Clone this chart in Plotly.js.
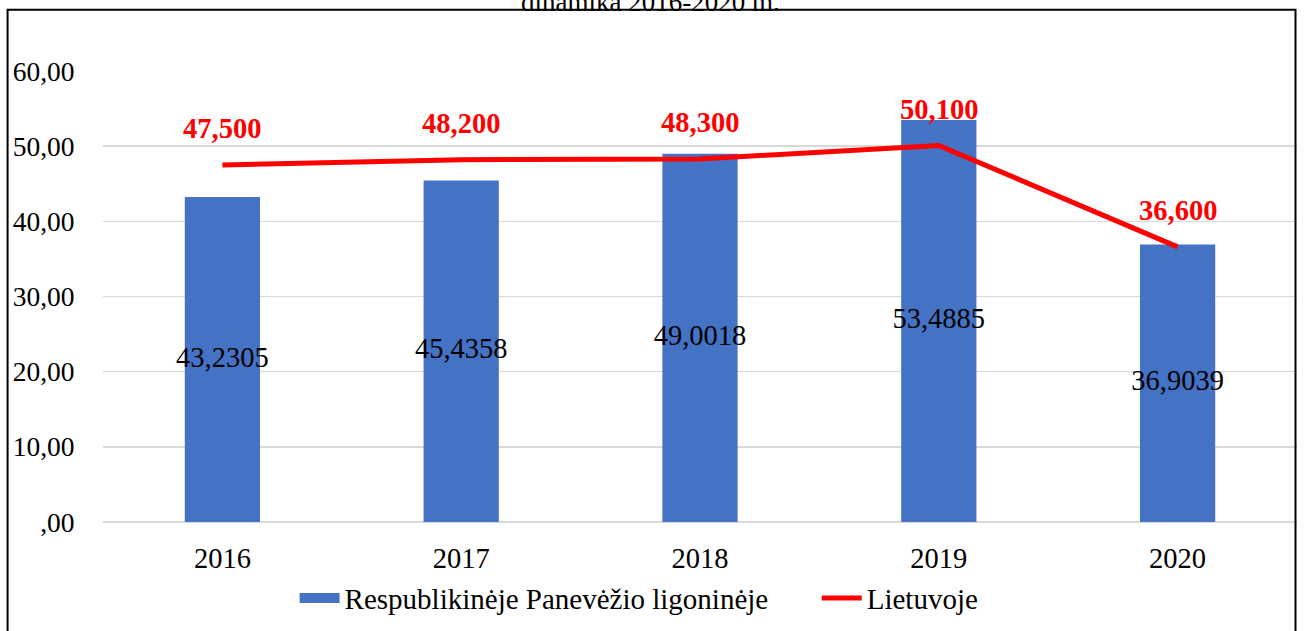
<!DOCTYPE html>
<html>
<head>
<meta charset="utf-8">
<script src="https://cdn.plot.ly/plotly-3.0.1.min.js"></script>
<style>
html,body{margin:0;padding:0;background:#fff;}
#chart{width:1306px;height:631px;}
</style>
</head>
<body>
<div id="chart"></div>
<script>
const years = ['2016', '2017', '2018', '2019', '2020'];
const hospitalValues = [43.2305, 45.4358, 49.0018, 53.4885, 36.9039];
const lithuaniaValues = [47.5, 48.2, 48.3, 50.1, 36.6];
const hospitalName = 'Respublikinėje Panevėžio ligoninėje';
const lithuaniaName = 'Lietuvoje';
const tickVals = [0, 10, 20, 30, 40, 50, 60];
const tickText = [',00', '10,00', '20,00', '30,00', '40,00', '50,00', '60,00'];
const titleText = 'dinamika 2016-2020 m.';

const fmt = (v, d) => v.toFixed(d).replace('.', ',');
const serif = '"Liberation Serif", "Times New Roman", serif';
const FS = 28.5;
const legendGap = '\u00a0'.repeat(6);

const bars = {
  type: 'bar', x: years, y: hospitalValues, name: hospitalName, showlegend: false,
  marker: {color: '#4472C4'}, width: 0.315, hoverinfo: 'skip'
};
// legend entry for the bars drawn as a wide blue swatch
const barsLegend = {
  type: 'scatter', mode: 'lines', x: [null], y: [null], name: hospitalName + legendGap,
  line: {color: '#4472C4', width: 20}, hoverinfo: 'skip'
};
const barLabels = {
  type: 'scatter', mode: 'text', x: years, y: hospitalValues.map(v => v / 2),
  text: hospitalValues.map(v => fmt(v, 4)), textposition: 'middle center',
  textfont: {family: serif, size: FS, color: '#000'}, showlegend: false, hoverinfo: 'skip'
};
const line = {
  type: 'scatter', mode: 'lines', x: years, y: lithuaniaValues, name: lithuaniaName,
  line: {color: '#FF0000', width: 5}, hoverinfo: 'skip'
};

const annotations = years.map((yr, i) => ({
  x: i, y: lithuaniaValues[i], xref: 'x', yref: 'y',
  text: '<b>' + fmt(lithuaniaValues[i], 3) + '</b>', showarrow: false, yshift: 36,
  font: {family: serif, size: FS, color: '#FF0000'}
}));

const L = 102.5, R = 1297.5, T = 71, B = 523;
const pw = R - L, ph = B - T;
const layout = {
  width: 1306, height: 631,
  margin: {l: L, r: 1306 - R, t: T, b: 631 - B, pad: 0},
  paper_bgcolor: '#fff', plot_bgcolor: '#fff',
  font: {family: serif, size: FS, color: '#000'},
  title: {text: titleText, font: {family: serif, size: 27, color: '#000'},
          x: 0.498, xanchor: 'center', y: 0.997, yref: 'container', yanchor: 'middle'},
  showlegend: true,
  legend: {orientation: 'h', x: 0.449, xanchor: 'center', y: -0.166, yanchor: 'middle',
           traceorder: 'normal',
           font: {family: serif, size: 29, color: '#000'}, itemwidth: 40, bgcolor: 'rgba(0,0,0,0)'},
  xaxis: {type: 'category', range: [-0.5, years.length - 0.5], showgrid: false, zeroline: false, showline: false,
          ticks: 'outside', ticklen: 11, tickcolor: 'rgba(0,0,0,0)',
          tickfont: {family: serif, size: FS, color: '#000'}},
  yaxis: {range: [0, 60], tickvals: tickVals, ticktext: tickText,
          showgrid: true, gridcolor: '#D9D9D9', gridwidth: 1.5,
          zeroline: true, zerolinecolor: '#D9D9D9', zerolinewidth: 1.5, showline: false,
          ticks: 'outside', ticklen: 22, tickcolor: 'rgba(0,0,0,0)',
          tickfont: {family: serif, size: 27.5, color: '#000'}},
  annotations: annotations,
  shapes: [{
    type: 'rect', xref: 'paper', yref: 'paper', layer: 'above',
    x0: (7 - L) / pw, x1: (1296 - L) / pw,
    y0: (B - 640) / ph, y1: (B - 9.5) / ph,
    line: {color: '#000', width: 2}, fillcolor: 'rgba(0,0,0,0)'
  }]
};

Plotly.newPlot('chart', [bars, barsLegend, barLabels, line], layout, {staticPlot: true, displayModeBar: false});
</script>
</body>
</html>
